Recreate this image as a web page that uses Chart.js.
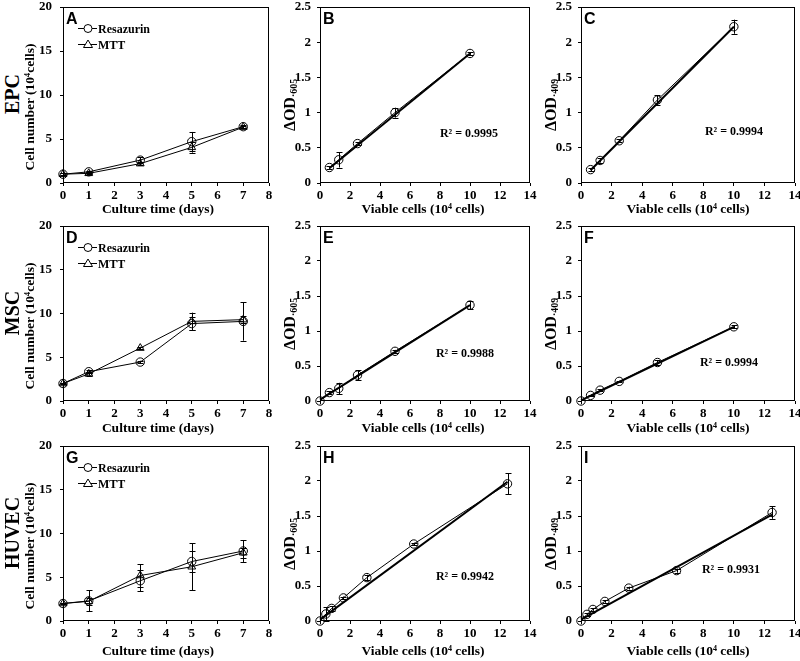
<!DOCTYPE html>
<html><head><meta charset="utf-8">
<script src="https://cdn.jsdelivr.net/npm/chart.js@4.4.0/dist/chart.umd.min.js"></script>
<style>
body{margin:0;width:800px;height:661px;background:#fff;position:relative;overflow:hidden;font-family:'Liberation Serif','Times New Roman',serif;color:#000}
canvas{position:absolute}
.t{position:absolute;white-space:nowrap;font-weight:bold;transform:translate(-50%,-50%);line-height:1}
.r{transform:translate(-50%,-50%) rotate(-90deg)}
sup{font-size:0.6em;vertical-align:0.55em;line-height:0}
.s{font-size:0.62em;vertical-align:-0.25em;line-height:0}
</style></head><body>
<script>
// ---------- data ----------
const days = [0, 1, 3, 5, 7];
const epcResazurin    = [1.0, 1.27, 2.6, 4.7, 6.4];
const epcResazurinErr = [0.1, 0.15, 0.35, 1.1, 0.15];
const epcMtt          = [1.0, 1.1, 2.2, 4.05, 6.35];
const epcMttErr       = [0.1, 0.1, 0.2, 0.6, 0.15];
const mscResazurin    = [2.0, 3.35, 4.45, 8.85, 9.1];
const mscResazurinErr = [0.1, 0.2, 0.15, 0.75, 2.2];
const mscMtt          = [2.0, 3.1, 6.05, 9.1, 9.3];
const mscMttErr       = [0.1, 0.2, 0.15, 1.0, 0.4];
const huvecResazurin    = [2.0, 2.3, 4.6, 6.8, 8.0];
const huvecResazurinErr = [0.1, 1.2, 1.2, 1.15, 1.25];
const huvecMtt          = [2.0, 2.25, 5.2, 6.2, 7.8];
const huvecMttErr       = [0.1, 0.4, 1.3, 2.7, 0.6];

const cellsEpc   = [0.625, 1.25, 2.5, 5, 10];
const cellsMsc   = [0, 0.625, 1.25, 2.5, 5, 10];
const cellsHuvec = [0, 0.39, 0.78, 1.56, 3.125, 6.25, 12.5];
const epcOD605    = [0.22, 0.33, 0.56, 1.0, 1.84];
const epcOD605Err = [0.02, 0.11, 0.02, 0.07, 0.02];
const epcOD409    = [0.19, 0.32, 0.6, 1.18, 2.22];
const epcOD409Err = [0.02, 0.03, 0.02, 0.07, 0.1];
const mscOD605    = [0, 0.12, 0.18, 0.37, 0.71, 1.37];
const mscOD605Err = [0, 0.02, 0.08, 0.07, 0.02, 0.06];
const mscOD409    = [0, 0.08, 0.155, 0.28, 0.55, 1.06];
const mscOD409Err = [0, 0.01, 0.01, 0.01, 0.03, 0.02];
const huvecOD605    = [0, 0.1, 0.18, 0.33, 0.62, 1.1, 1.96];
const huvecOD605Err = [0, 0.1, 0.03, 0.02, 0.04, 0.02, 0.15];
const huvecOD409    = [0, 0.095, 0.165, 0.28, 0.47, 0.72, 1.55];
const huvecOD409Err = [0, 0.02, 0.02, 0.02, 0.02, 0.03, 0.09];

// linear fit lines (end points)
const fitEpc605X = [0.625, 10],  fitEpc605Y = [0.21, 1.84];
const fitEpc409X = [0.625, 10],  fitEpc409Y = [0.18, 2.22];
const fitMsc605X = [0, 10],      fitMsc605Y = [0.02, 1.37];
const fitMsc409X = [0, 10],      fitMsc409Y = [0.01, 1.06];
const fitHuvec605X = [0, 12.5],  fitHuvec605Y = [0.02, 1.99];
const fitHuvec409X = [0, 12.5],  fitHuvec409Y = [0.02, 1.52];

const r2Labels = ['R² = 0.9995', 'R² = 0.9994', 'R² = 0.9988', 'R² = 0.9994', 'R² = 0.9942', 'R² = 0.9931'];
const panelLetters = ['A','B','C','D','E','F','G','H','I'];
const rowLabels = ['EPC','MSC','HUVEC'];
const seriesNames = ['Resazurin','MTT'];

// ---------- layout ----------
const cols = [{L:63,R:269},{L:320,R:530},{L:581,R:795}];
const rows = [{T:7,B:183},{T:226,B:401},{T:446,B:621}];
const SERIF = "'Liberation Serif','Times New Roman',serif";
const SANS = "'Liberation Sans',Arial,sans-serif";

const pts = (xs, ys) => xs.map((x,i)=>({x, y: ys[i]}));

const decor = {
  id:'decor',
  beforeDatasetsDraw(chart){
    const {ctx, scales:{x,y}} = chart;
    ctx.save(); ctx.strokeStyle='#000'; ctx.lineWidth=1;
    chart.data.datasets.forEach(ds=>{
      if(!ds.errors) return;
      ds.data.forEach((p,j)=>{
        const e = ds.errors[j]; if(!e) return;
        const px = Math.round(x.getPixelForValue(p.x))+0.5;
        const y1 = y.getPixelForValue(p.y+e), y2 = y.getPixelForValue(p.y-e);
        ctx.beginPath();
        ctx.moveTo(px,y1); ctx.lineTo(px,y2);
        ctx.moveTo(px-3,Math.round(y1)+0.5); ctx.lineTo(px+3,Math.round(y1)+0.5);
        ctx.moveTo(px-3,Math.round(y2)+0.5); ctx.lineTo(px+3,Math.round(y2)+0.5);
        ctx.stroke();
      });
    });
    ctx.restore();
  },
  afterDraw(chart, args, o){
    const {ctx, chartArea:a} = chart;
    ctx.save();
    ctx.strokeStyle='#000'; ctx.lineWidth=1;
    ctx.strokeRect(a.left+0.5, a.top+0.5, a.right-a.left-1, a.bottom-a.top-1);
    ctx.fillStyle='#000';
    ctx.textBaseline='alphabetic';
    if(o.letter){
      ctx.font = "bold 16px " + SANS;
      ctx.fillText(o.letter, a.left+3, a.top+17);
    }
    if(o.r2){
      ctx.font = "bold 12px " + SERIF;
      ctx.textAlign='center'; ctx.textBaseline='middle';
      ctx.fillText(o.r2, a.left+o.r2dx, a.top+o.r2dy);
    }
    if(o.legend){
      ctx.textAlign='left'; ctx.textBaseline='middle';
      ctx.font = "bold 12px " + SERIF;
      o.legend.forEach((it,i)=>{
        const yy = a.top + 21 + i*16 + 0.5;
        ctx.beginPath(); ctx.moveTo(a.left+15, yy); ctx.lineTo(a.left+34, yy); ctx.stroke();
        ctx.beginPath();
        const cx = a.left+25;
        if(it.style==='circle'){ ctx.arc(cx, yy, 4, 0, Math.PI*2); }
        else { ctx.moveTo(cx, yy-4.5); ctx.lineTo(cx+4.5, yy+3); ctx.lineTo(cx-4.5, yy+3); ctx.closePath(); }
        ctx.fillStyle='#fff'; ctx.fill(); ctx.stroke(); ctx.fillStyle='#000';
        ctx.fillText(it.label, a.left+35, yy+1);
      });
    }
    ctx.restore();
  }
};

const fmtTick = v => String(Math.round(v*100)/100);

function panel(row, col, datasets, xmax, xstep, ymax, ystep, decorOpts){
  const {L,R} = cols[col], {T,B} = rows[row];
  const YW=40, XH=24, PT=8, PR=10;
  const c = document.createElement('canvas');
  const w = R-L+YW+PR, h = B-T+PT+XH;
  c.width=w; c.height=h;
  c.style.left=(L-YW)+'px'; c.style.top=(T-PT)+'px';
  c.style.width=w+'px'; c.style.height=h+'px';
  document.body.appendChild(c);
  const tickFont = {family: SERIF, size: 13, weight: 'bold'};
  new Chart(c, {
    type:'scatter',
    data:{datasets},
    options:{
      responsive:false, animation:false, devicePixelRatio:1,
      layout:{padding:{left:0, top:PT, right:PR, bottom:0}},
      plugins:{legend:{display:false}, tooltip:{enabled:false}, decor: decorOpts},
      scales:{
        x:{type:'linear', min:0, max:xmax,
           ticks:{stepSize:xstep, color:'#000', font:tickFont, padding:2, maxRotation:0, autoSkip:false, callback:fmtTick},
           grid:{display:true, drawOnChartArea:false, drawTicks:true, tickLength:3, color:'#000'},
           border:{display:false},
           afterFit(s){ s.height = XH; s.paddingLeft = 0; s.paddingRight = 0; }},
        y:{type:'linear', min:0, max:ymax,
           ticks:{stepSize:ystep, color:'#000', font:tickFont, padding: col===0?8:6, autoSkip:false, callback:fmtTick},
           grid:{display:true, drawOnChartArea:false, drawTicks:true, tickLength:3, color:'#000'},
           border:{display:false},
           afterFit(s){ s.width = YW; s.paddingTop = 0; s.paddingBottom = 0; }}
      }
    },
    plugins:[decor]
  });
}

function growthSets(res, resErr, mtt, mttErr){
  const base = {showLine:true, clip:false, borderColor:'#000', borderWidth:1, pointBorderColor:'#000',
                pointBackgroundColor:'rgba(255,255,255,0)', pointBorderWidth:1, pointHoverRadius:4};
  return [
    Object.assign({}, base, {label:seriesNames[0], data:pts(days,res), errors:resErr, pointStyle:'circle', pointRadius:4.2}),
    Object.assign({}, base, {label:seriesNames[1], data:pts(days,mtt), errors:mttErr, pointStyle:'triangle', pointRadius:4.5})
  ];
}
function curveSets(xs, ys, errs, fx, fy){
  return [
    {label:'fit', data:pts(fx,fy), showLine:true, clip:false, borderColor:'#000', borderWidth:2, pointRadius:0, order:0},
    {label:'data', data:pts(xs,ys), errors:errs, showLine:true, clip:false, borderColor:'#000', borderWidth:1,
     pointStyle:'circle', pointRadius:4.2, pointBorderColor:'#000', pointBorderWidth:1,
     pointBackgroundColor:'rgba(255,255,255,0)', order:1}
  ];
}
const legendItems = [{label:seriesNames[0], style:'circle'},{label:seriesNames[1], style:'triangle'}];

panel(0,0, growthSets(epcResazurin,epcResazurinErr,epcMtt,epcMttErr), 8,1,20,5, {letter:panelLetters[0], legend:legendItems});
panel(1,0, growthSets(mscResazurin,mscResazurinErr,mscMtt,mscMttErr), 8,1,20,5, {letter:panelLetters[3], legend:legendItems});
panel(2,0, growthSets(huvecResazurin,huvecResazurinErr,huvecMtt,huvecMttErr), 8,1,20,5, {letter:panelLetters[6], legend:legendItems});

panel(0,1, curveSets(cellsEpc,epcOD605,epcOD605Err,fitEpc605X,fitEpc605Y), 14,2,2.5,0.5, {letter:panelLetters[1], r2:r2Labels[0], r2dx:149, r2dy:127});
panel(0,2, curveSets(cellsEpc,epcOD409,epcOD409Err,fitEpc409X,fitEpc409Y), 14,2,2.5,0.5, {letter:panelLetters[2], r2:r2Labels[1], r2dx:153, r2dy:125});
panel(1,1, curveSets(cellsMsc,mscOD605,mscOD605Err,fitMsc605X,fitMsc605Y), 14,2,2.5,0.5, {letter:panelLetters[4], r2:r2Labels[2], r2dx:145, r2dy:128});
panel(1,2, curveSets(cellsMsc,mscOD409,mscOD409Err,fitMsc409X,fitMsc409Y), 14,2,2.5,0.5, {letter:panelLetters[5], r2:r2Labels[3], r2dx:148, r2dy:137});
panel(2,1, curveSets(cellsHuvec,huvecOD605,huvecOD605Err,fitHuvec605X,fitHuvec605Y), 14,2,2.5,0.5, {letter:panelLetters[7], r2:r2Labels[4], r2dx:145, r2dy:131});
panel(2,2, curveSets(cellsHuvec,huvecOD409,huvecOD409Err,fitHuvec409X,fitHuvec409Y), 14,2,2.5,0.5, {letter:panelLetters[8], r2:r2Labels[5], r2dx:150, r2dy:124});

// ---------- HTML text ----------
function txt(html, x, y, size, rot, family){
  const d = document.createElement('div');
  d.className = 't' + (rot?' r':'');
  d.innerHTML = html;
  d.style.left = x+'px'; d.style.top = y+'px'; d.style.fontSize = size+'px';
  if(family) d.style.fontFamily = family;
  document.body.appendChild(d);
}
const xTitleY = [209, 428, 651];
rows.forEach((r,i)=>{
  const mid = (r.T+r.B)/2;
  txt(rowLabels[i], 12, mid-1, 20, true);
  txt('Cell number (10<sup>4</sup>cells)', 30, mid+12, 13.5, true);
  txt('ΔOD<span class="s">·605</span>', 290, mid+10, 16, true);
  txt('ΔOD<span class="s">·409</span>', 551, mid+10, 16, true);
  txt('Culture time (days)', 158, xTitleY[i], 13.5, false);
  txt('Viable cells (10<sup>4</sup> cells)', 423, xTitleY[i], 13.5, false);
  txt('Viable cells (10<sup>4</sup> cells)', 688, xTitleY[i], 13.5, false);
});
</script>
</body></html>
